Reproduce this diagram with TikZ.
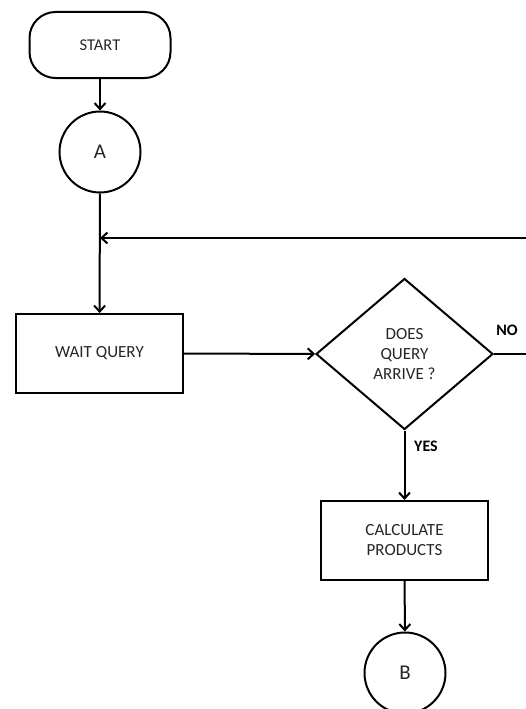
\documentclass[tikz,border=0pt]{standalone}
\usepackage{fontspec}
\setmainfont{Carlito}
\usetikzlibrary{shapes.geometric,arrows.meta}
\begin{document}
\begin{tikzpicture}[x=1pt,y=-1pt,
  every node/.style={font=\fontsize{17}{20}\selectfont, text=black!85},
  box/.style={draw=black, line width=2pt, rectangle, inner sep=0pt, align=center},
  conn/.style={circle, draw=black, line width=2pt, minimum size=81pt, inner sep=0pt},
  term/.style={draw=black, line width=2pt, rectangle, rounded corners=26pt, minimum width=141pt, minimum height=66pt, inner sep=0pt},
  dec/.style={draw=black, line width=2pt, diamond, minimum width=177pt, minimum height=151pt, inner sep=0pt, align=center},
  flow/.style={line width=2pt, -{Straight Barb[length=6pt,width=11pt,line width=2pt]}},
  lbl/.style={font=\fontsize{16}{18}\selectfont\bfseries, text=black}]
\useasboundingbox (0,0) rectangle (526,709);
\node[term] (start) at (100,45) {\fontsize{16.5}{18}\selectfont START};
\node[conn] (A) at (100,152) {\fontsize{21}{24}\selectfont A};
\node[box, minimum width=167pt, minimum height=79pt] (wait) at (99.5,353.5) {WAIT QUERY};
\node[dec] (dec) at (404.5,354) {DOES\\QUERY\\ARRIVE ?};
\node[box, minimum width=167pt, minimum height=79pt] (calc) at (404.5,540.5) {CALCULATE\\PRODUCTS};
\node[conn] (B) at (405,673) {\fontsize{21}{24}\selectfont B};
\coordinate (loopR) at (527,238);
\coordinate (loopJ) at (100,238);
\coordinate (noR) at (527,354);
\draw[flow] (start) -- (A);
\draw[flow] (A) -- (wait);
\draw[flow] (loopR) -- (loopJ);
\draw[flow] (wait) -- (dec);
\draw[line width=2pt] (dec.east) -- (noR);
\node[lbl] (no) at (507,330) {NO};
\draw[flow] (dec.south) -- (calc);
\node[lbl] (yes) at (426,446) {YES};
\draw[flow] (calc) -- (B);
\end{tikzpicture}
\end{document}
